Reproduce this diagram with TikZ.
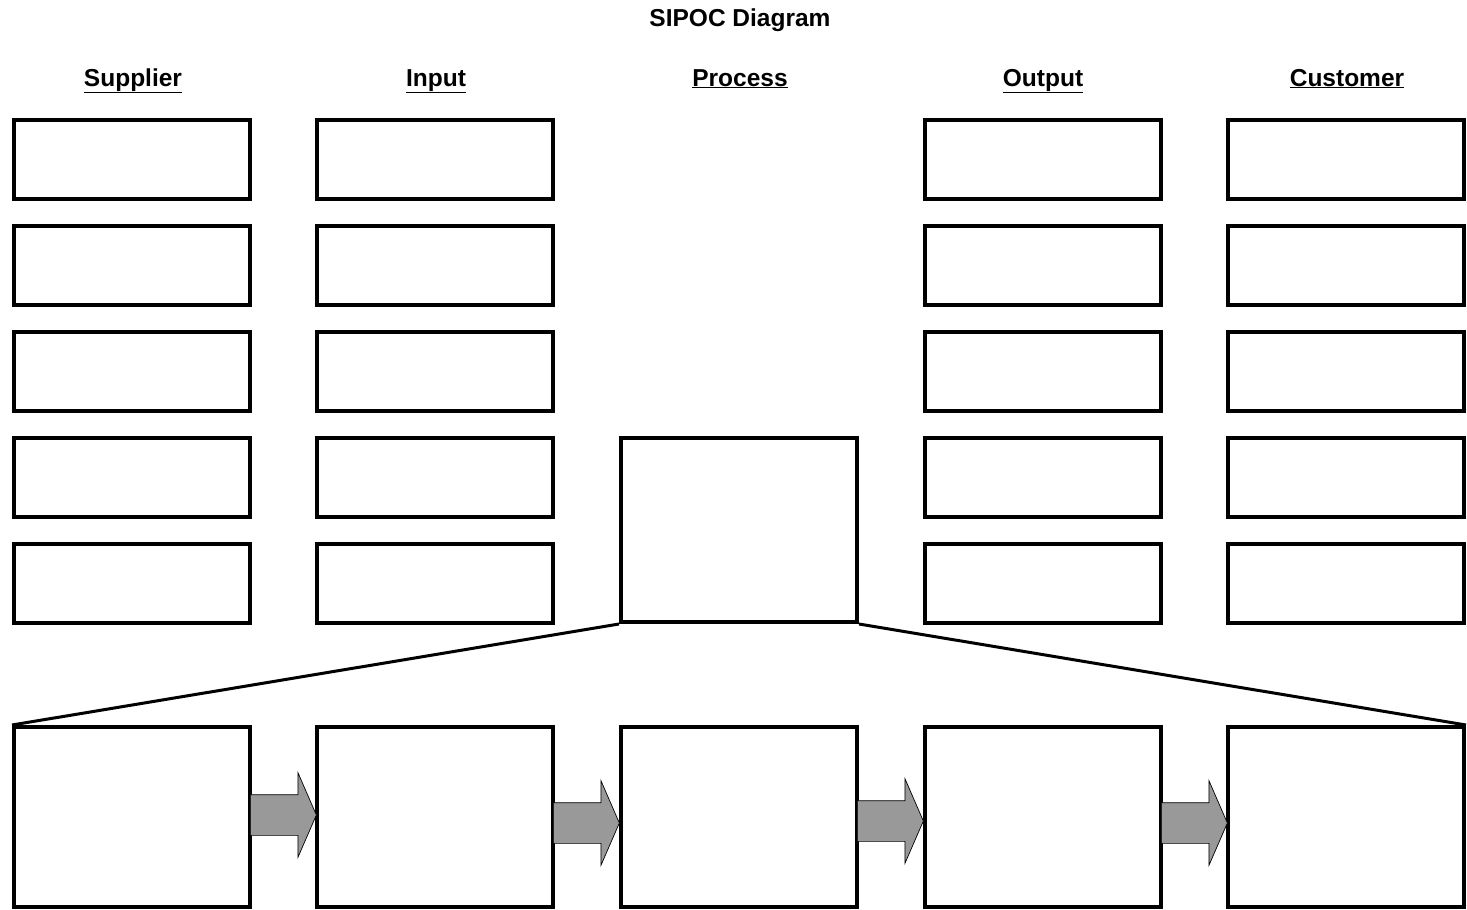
\documentclass[tikz,border=0pt]{standalone}
\usepackage{fontspec}
\setmainfont{Liberation Sans}
\usetikzlibrary{shapes.arrows, calc}
\definecolor{stepgray}{HTML}{999999}

\begin{document}
\begin{tikzpicture}[x=1pt, y=-1pt, line width=4pt,
  cell/.style={draw, fill=white, minimum width=236pt, minimum height=79pt, inner sep=0pt},
  headline/.style={font=\fontsize{24.5}{29}\selectfont\bfseries, anchor=base},
  flowarrow/.style={single arrow, draw, fill=stepgray, line width=0.7pt,
    minimum height=66pt, single arrow head extend=22pt, single arrow tip angle=133,
    single arrow head indent=0pt, inner xsep=0pt, inner ysep=20pt, anchor=tail}]

% Page
\useasboundingbox (0,0) rectangle (1467,910);

% Title
\node[headline] (title) at (740,27) {SIPOC Diagram};

% Column heads
\node[headline] (hsup) at (133,86) {\underline{Supplier}};
\node[headline] (hin) at (436,86) {\underline{Input}};
\node[headline] (hproc) at (740,86) {\underline{Process}};
\node[headline] (hout) at (1043,86) {\underline{Output}};
\node[headline] (hcus) at (1347,86) {\underline{Customer}};

% Supplier column
\node[cell] (sup1) at (132,159.5) {};
\node[cell] (sup2) at (132,265) {};
\node[cell] (sup3) at (132,371) {};
\node[cell] (sup4) at (132,477) {};
\node[cell] (sup5) at (132,583) {};

% Input column
\node[cell] (in1) at (435,159.5) {};
\node[cell] (in2) at (435,265) {};
\node[cell] (in3) at (435,371) {};
\node[cell] (in4) at (435,477) {};
\node[cell] (in5) at (435,583) {};

% Process box
\node[cell, minimum height=184pt] (proc) at (739,530) {};

% Output column
\node[cell] (out1) at (1043,159.5) {};
\node[cell] (out2) at (1043,265) {};
\node[cell] (out3) at (1043,371) {};
\node[cell] (out4) at (1043,477) {};
\node[cell] (out5) at (1043,583) {};

% Customer column
\node[cell] (cus1) at (1346,159.5) {};
\node[cell] (cus2) at (1346,265) {};
\node[cell] (cus3) at (1346,371) {};
\node[cell] (cus4) at (1346,477) {};
\node[cell] (cus5) at (1346,583) {};

% Process steps
\node[cell, minimum height=180pt] (step1) at (132,817) {};
\node[cell, minimum height=180pt] (step2) at (435,817) {};
\node[cell, minimum height=180pt] (step3) at (739,817) {};
\node[cell, minimum height=180pt] (step4) at (1043,817) {};
\node[cell, minimum height=180pt] (step5) at (1346,817) {};

% Zoom lines
\draw[line width=3pt] (proc.south west) -- (step1.north west);
\draw[line width=3pt] (proc.south east) -- (step5.north east);

% Step arrows
\node[flowarrow] (arr1) at ($(step1.east)+(-2,-2)$) {};
\node[flowarrow] (arr2) at ($(step2.east)+(-2,6)$) {};
\node[flowarrow] (arr3) at ($(step3.east)+(-2,4)$) {};
\node[flowarrow] (arr4) at ($(step4.east)+(-2,6)$) {};

\end{tikzpicture}
\end{document}
